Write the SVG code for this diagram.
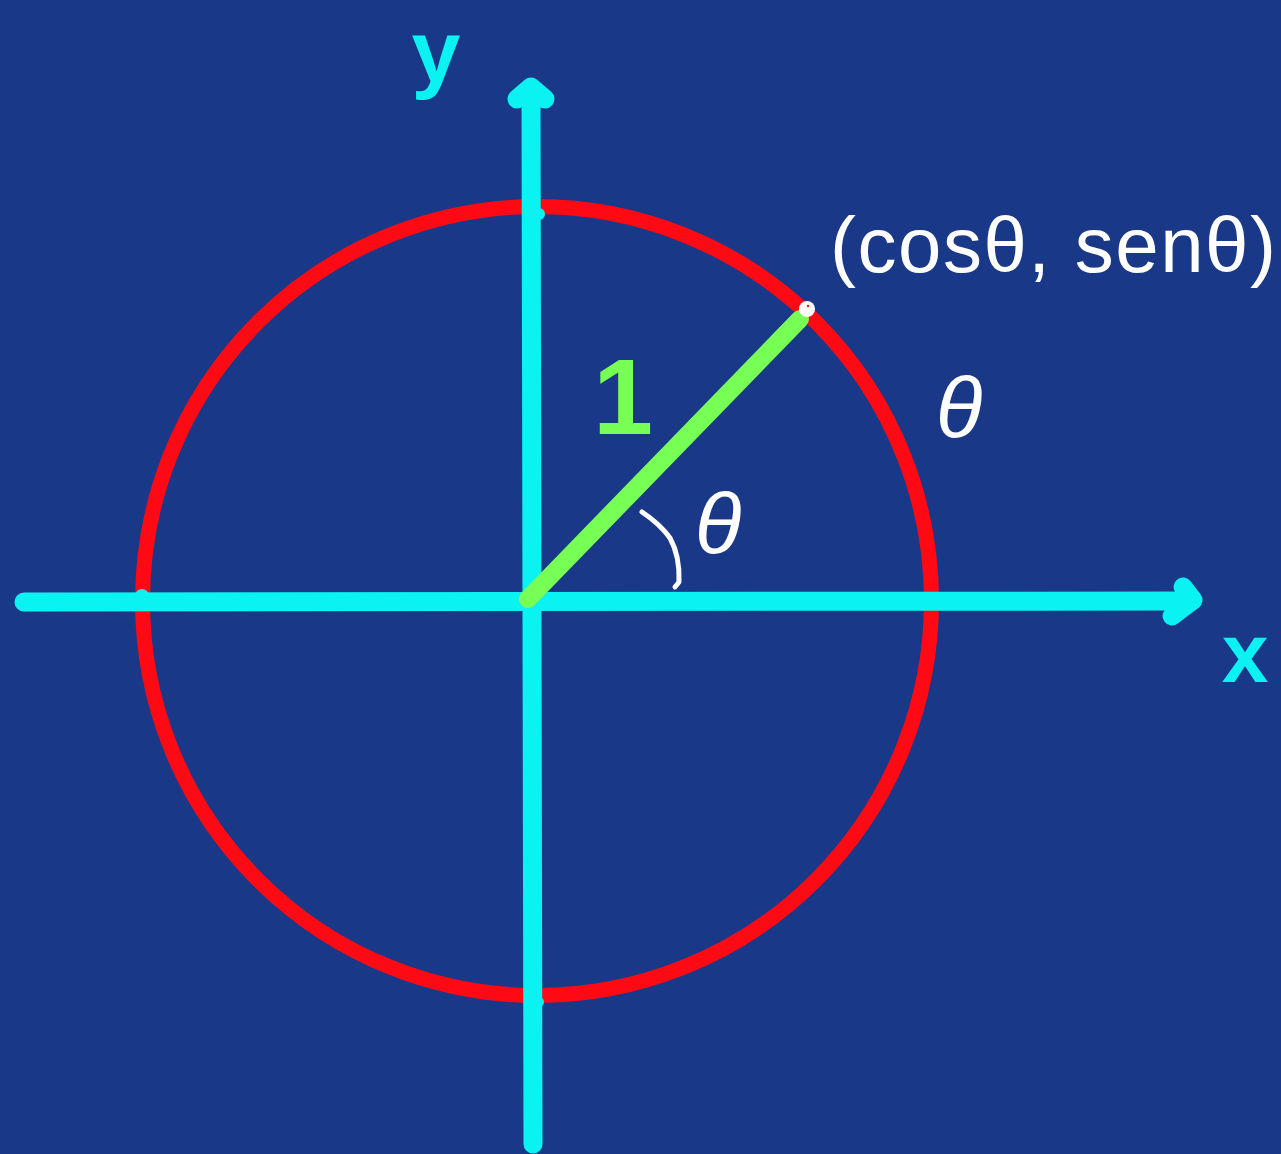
<svg xmlns="http://www.w3.org/2000/svg" width="1281" height="1154" viewBox="0 0 1281 1154">
  <style>
    .axis { stroke: #0AF2F2; stroke-width: 19; stroke-linecap: round; stroke-linejoin: round; fill: none; }
    .cyan { fill: #0AF2F2; }
    .hand { font-family: "Liberation Sans", "DejaVu Sans", sans-serif; fill: #FFFFFF; }
    .bold { font-family: "Liberation Sans", "DejaVu Sans", sans-serif; font-weight: bold; }
  </style>
  <rect x="0" y="0" width="1281" height="1154" fill="#193887"/>

  <g id="circle">
    <circle cx="537" cy="601" r="394.5" fill="none" stroke="#FF0A14" stroke-width="15"/>
  </g>

  <g id="axes">
    <line class="axis" x1="24" y1="602" x2="1192" y2="601"/>
    <polyline class="axis" points="1183,587 1193,600 1172,616"/>
    <line class="axis" x1="533" y1="1144" x2="531" y2="92"/>
    <polyline class="axis" points="517,99 531,87 545,99"/>
    <polygon class="cyan" points="517,99 531,87 545,99"/>
    <circle class="cyan" cx="142" cy="596" r="7"/>
    <circle class="cyan" cx="539" cy="214" r="6"/>
    <circle class="cyan" cx="539" cy="1002" r="5"/>
  </g>

  <g id="radius">
    <line x1="528" y1="599" x2="800" y2="319" stroke="#77FF55" stroke-width="18" stroke-linecap="round"/>
    <circle cx="807" cy="309" r="8" fill="#FFFFFF"/>
    <circle cx="808" cy="306" r="1.2" fill="#FF0A14"/>
  </g>

  <g id="angle-arc">
    <path d="M642,512 Q660,524 670,538 Q680,556 679,582 L675,587" fill="none" stroke="#FFFFFF" stroke-width="5" stroke-linecap="round" stroke-linejoin="round"/>
  </g>

  <g id="labels">
    <text id="label-y" class="bold" x="436" y="82" font-size="88" fill="#0AF2F2" text-anchor="middle">y</text>
    <text id="label-x" class="bold" x="1245" y="682" font-size="84" fill="#0AF2F2" text-anchor="middle">x</text>
    <text id="label-one" class="bold" x="623" y="434" font-size="108" fill="#77FF55" text-anchor="middle">1</text>
    <text id="label-theta-angle" class="hand" x="718" y="553" font-size="86" text-anchor="middle" font-style="italic">θ</text>
    <text id="label-theta-arc" class="hand" x="959" y="437" font-size="86" text-anchor="middle" font-style="italic">θ</text>
    <text id="label-point" class="hand" x="830" y="272" font-size="78" textLength="446" lengthAdjust="spacing">(cosθ, senθ)</text>
  </g>
</svg>
